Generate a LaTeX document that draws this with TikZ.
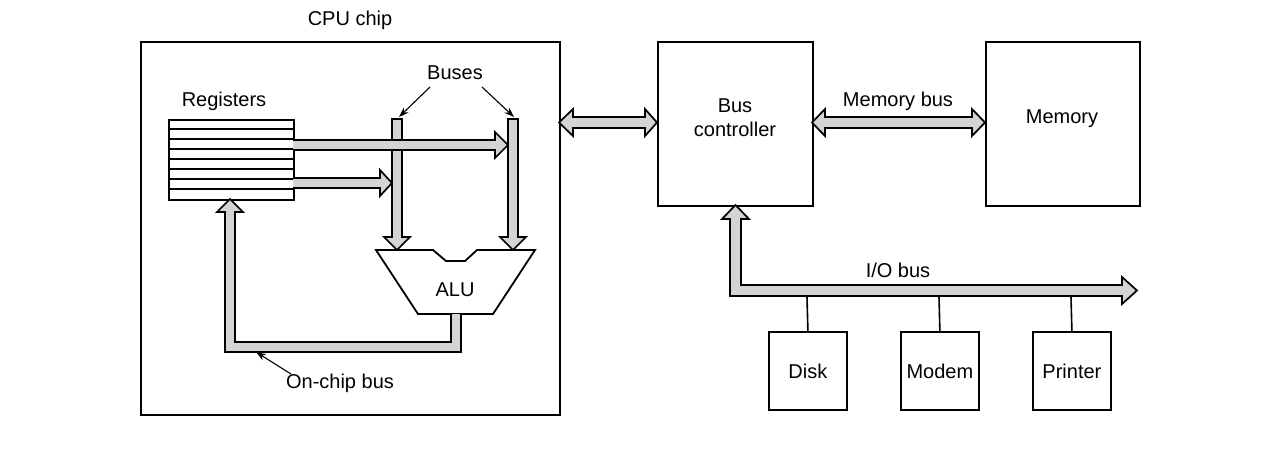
\documentclass[tikz,border=0pt]{standalone}
\usepackage{fontspec}
\setmainfont{Liberation Sans}
\usetikzlibrary{calc,arrows.meta}
\definecolor{busfill}{RGB}{212,212,212}
\tikzset{
  box/.style={draw, line width=1.8pt, fill=white},
  fat/.style={draw, line width=1.7pt, fill=busfill, line join=miter},
  lbl/.style={inner sep=0pt, font=\fontsize{20}{23}\selectfont},
  thin/.style={draw, line width=1.6pt},
  ptr/.style={draw, line width=1.1pt, -{Stealth[length=10pt,width=7pt]}}
}
\begin{document}
\begin{tikzpicture}[x=1pt,y=-1pt]
\useasboundingbox (0,0) rectangle (1280,459);
\fill[white] (0,0) rectangle (1280,459);

% CPU chip
\node[box, minimum width=419pt, minimum height=373pt, anchor=north west, inner sep=0pt] (cpu) at (140,41) {};
\node[lbl] (cpulbl) at (350,20) {CPU chip};

% Registers
\node[box, minimum width=125pt, minimum height=80pt, anchor=north west, inner sep=0pt] (reg) at (168,119) {};
\foreach \i in {1,...,7}{
  \draw[line width=1.7pt] ($(reg.north west)+(0,\i*10)$) -- ($(reg.north east)+(0,\i*10)$);
}
\node[lbl] (reglbl) at (224,101) {Registers};

% vertical buses
\path[fat] (392,119) -- (402,119) -- (402,237) -- (410,237) -- (397,250) -- (384,237) -- (392,237) -- cycle;
\path[fat] (508,119) -- (518,119) -- (518,237) -- (526,237) -- (513,250) -- (500,237) -- (508,237) -- cycle;

% register -> bus arrows
\path[fat] (293,140) -- (495,140) -- (495,132) -- (508,145) -- (495,158) -- (495,150) -- (293,150);
\path[fat] (293,178) -- (380,178) -- (380,170) -- (392,183) -- (380,196) -- (380,188) -- (293,188);

\node[lbl] (buslbl) at (455,73) {Buses};
\coordinate (b1top) at (399,117);
\coordinate (b2top) at (514,117);
\draw[ptr] (430,87) -- (b1top);
\draw[ptr] (482,87) -- (b2top);

% ALU
\draw[line width=1.8pt, fill=white, line join=miter] (376,250) -- (433,250) -- (446,261) -- (465,261) -- (477,250) -- (535,250) -- (493,314) -- (418,314) -- cycle;
\node[lbl] (alu) at (455,290) {ALU};

% on-chip bus
\path[fill=busfill] (451,314) -- (461,314) -- (461,352) -- (225,352) -- (225,212) -- (217,212) -- (230,199) -- (243,212) -- (235,212) -- (235,342) -- (451,342) -- cycle;
\draw[line width=1.7pt, line join=miter] (461,314) -- (461,352) -- (225,352) -- (225,212) -- (217,212) -- (230,199) -- (243,212) -- (235,212) -- (235,342) -- (451,342) -- (451,314);
\node[lbl] (oclbl) at (340,383) {On-chip bus};
\coordinate (ocpt) at (256,352);
\draw[ptr] (291,374) -- (ocpt);

% Bus controller
\node[box, minimum width=155pt, minimum height=164pt, anchor=north west, inner sep=0pt] (bc) at (657,41) {};
\node[lbl, align=center] (bclbl) at (735,118) {Bus\\[1pt]controller};

% Memory
\node[box, minimum width=154pt, minimum height=164pt, anchor=north west, inner sep=0pt] (mem) at (985,41) {};
\node[lbl] (memlbl) at (1062,119) {Memory};

% CPU <-> Bus controller
\path[fat] (573,117) -- (645,117) -- (645,109) -- (657,122.5) -- (645,136) -- (645,128) -- (573,128) -- (573,136) -- (559,122.5) -- (573,109) -- cycle;
% Memory bus
\path[fat] (825,117) -- (972,117) -- (972,109) -- (985,122.5) -- (972,136) -- (972,128) -- (825,128) -- (825,136) -- (812,122.5) -- (825,109) -- cycle;
\node[lbl] (mblbl) at (898,101) {Memory bus};

% I/O bus
\path[fat] (730,296) -- (1122,296) -- (1122,304) -- (1137,290.5) -- (1122,277) -- (1122,285) -- (741,285) -- (741,219) -- (749,219) -- (735.5,205) -- (722,219) -- (730,219) -- cycle;
\node[lbl] (iolbl) at (898,270) {I/O bus};

% devices
\node[box, minimum width=78pt, minimum height=78pt, anchor=north west, inner sep=0pt] (disk) at (768,331) {};
\node[lbl] at (disk.center) {Disk};
\node[box, minimum width=78pt, minimum height=78pt, anchor=north west, inner sep=0pt] (modem) at (900,331) {};
\node[lbl] at (modem.center) {Modem};
\node[box, minimum width=78pt, minimum height=78pt, anchor=north west, inner sep=0pt] (printer) at (1032,331) {};
\node[lbl] at (printer.center) {Printer};

\coordinate (d1) at (807,297);
\coordinate (d2) at (939,297);
\coordinate (d3) at (1071,297);
\draw[thin] (d1) -- (disk.north);
\draw[thin] (d2) -- (modem.north);
\draw[thin] (d3) -- (printer.north);
\end{tikzpicture}
\end{document}
